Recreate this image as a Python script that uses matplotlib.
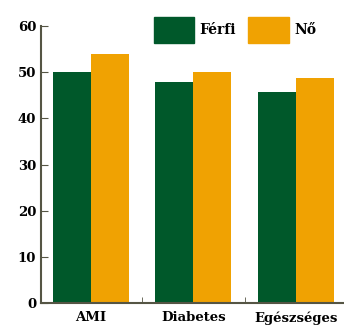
import numpy as np
import matplotlib
matplotlib.use("Agg")
import matplotlib.pyplot as plt
from matplotlib.patches import Patch

categories = ["AMI", "Diabetes", "Egészséges"]
ferfi = [50, 47.8, 45.8]
no = [54, 50, 48.8]
series_labels = ["Férfi", "Nő"]

plt.rcParams['font.family'] = ['DejaVu Serif']

fig = plt.figure(figsize=(3.44, 3.27), dpi=100)
ax = fig.add_axes([41 / 344, 24 / 327, 1 - 41 / 344, (303 - 26) / 327])

x = np.arange(len(categories))
w = 0.37
green = "#00582a"
orange = "#f0a202"
ax.bar(x - w / 2, ferfi, w, color=green)
ax.bar(x + w / 2, no, w, color=orange)

ax.set_xlim(-0.485, 2.47)
ax.set_ylim(0, 60)
ax.set_yticks(range(0, 61, 10))
ax.set_xticks(x)
ax.set_xticklabels(categories, fontsize=9.5, fontweight="bold")
ax.set_xticks([0.5, 1.5], minor=True)
ax.tick_params(axis="x", which="major", length=0, pad=6)
ax.tick_params(axis="x", which="minor", direction="in", length=4, color="#555544")
ax.tick_params(axis="y", direction="in", length=5, labelsize=9.5, color="#555544")
for lab in ax.get_yticklabels():
    lab.set_fontweight("bold")
for s in ["top", "right"]:
    ax.spines[s].set_visible(False)
for s in ["left", "bottom"]:
    ax.spines[s].set_color("#555544")
    ax.spines[s].set_linewidth(1.5)

handles = [Patch(color=green), Patch(color=orange)]
fig.legend(handles, series_labels, loc="upper left", bbox_to_anchor=(148 / 344, 1 - 11 / 327),
           ncol=2, frameon=False, handlelength=2.9, handleheight=2.6,
           prop={"size": 10, "weight": "bold"},
           columnspacing=0.9, handletextpad=0.4, borderaxespad=0)

fig.savefig("out.png", dpi=100)
